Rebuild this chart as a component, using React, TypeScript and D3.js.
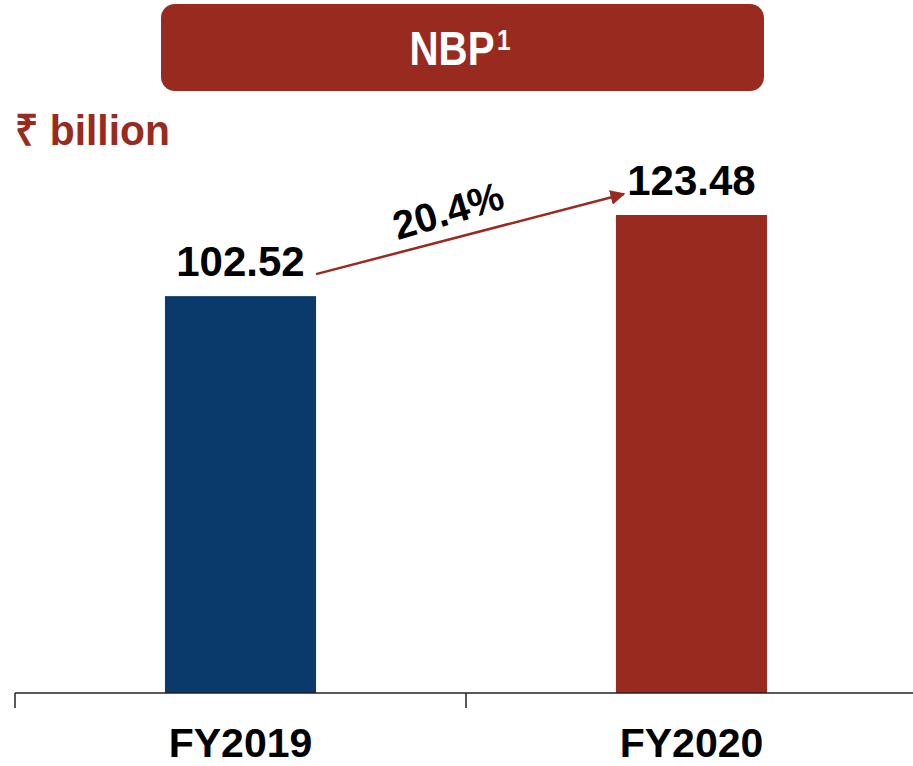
import React, { useEffect, useRef } from 'react';
import * as d3 from 'd3';

const categories = ['FY2019', 'FY2020'];
const values = [102.52, 123.48];
const valueLabels = ['102.52', '123.48'];
const barColors = ['#0a3a6b', '#982a20'];
const growthLabel = '20.4%';

const App = () => {
  const svgRef = useRef<SVGSVGElement | null>(null);

  useEffect(() => {
    const width = 913;
    const height = 766;
    const font = "'Liberation Sans', Arial, sans-serif";
    const red = '#982a20';

    const svg = d3.select(svgRef.current)
      .attr('width', width)
      .attr('height', height);
    svg.selectAll('*').remove();

    const baseY = 693;

    const x = d3.scaleBand()
      .domain(categories)
      .range([15, 917])
      .paddingInner(0.665)
      .paddingOuter(0.3325);

    const y = d3.scaleLinear()
      .domain([0, 123.48])
      .range([baseY, 215]);

    // title box
    svg.append('rect')
      .attr('x', 161)
      .attr('y', 4)
      .attr('width', 603)
      .attr('height', 87)
      .attr('rx', 14)
      .attr('fill', red);

    const title = svg.append('text')
      .attr('transform', 'translate(460,65) scale(0.84,1)')
      .attr('text-anchor', 'middle')
      .attr('fill', '#fff')
      .style('font-family', font)
      .style('font-weight', 'bold')
      .style('font-size', '48px');
    title.append('tspan').text('NBP');
    title.append('tspan')
      .attr('dx', 3)
      .attr('dy', -15)
      .style('font-size', '29px')
      .text('1');

    // unit label
    svg.append('text')
      .attr('transform', 'translate(15,145) scale(0.95,1)')
      .attr('fill', red)
      .style('font-family', font)
      .style('font-weight', 'bold')
      .style('font-size', '43px')
      .text('₹ billion');

    // bars
    svg.selectAll('.bar')
      .data(values)
      .enter().append('rect')
      .attr('class', 'bar')
      .attr('x', (d, i) => x(categories[i]))
      .attr('width', x.bandwidth())
      .attr('y', d => y(d))
      .attr('height', d => baseY - y(d))
      .attr('fill', (d, i) => barColors[i]);

    // value labels
    svg.selectAll('.val')
      .data(values)
      .enter().append('text')
      .attr('class', 'val')
      .attr('x', (d, i) => x(categories[i]) + x.bandwidth() / 2)
      .attr('y', d => y(d) - 20)
      .attr('text-anchor', 'middle')
      .attr('fill', '#000')
      .style('font-family', font)
      .style('font-weight', 'bold')
      .style('font-size', '42px')
      .text((d, i) => valueLabels[i]);

    // axis line + ticks at band boundaries
    const step = x.step();
    svg.append('line')
      .attr('x1', 15).attr('x2', width)
      .attr('y1', baseY).attr('y2', baseY)
      .attr('stroke', '#222')
      .attr('stroke-width', 1.5);
    categories.forEach(c => {
      const bx = x(c) - (step - x.bandwidth()) / 2;
      svg.append('line')
        .attr('x1', bx).attr('x2', bx)
        .attr('y1', baseY).attr('y2', 708)
        .attr('stroke', '#222')
        .attr('stroke-width', 1.5);
    });

    svg.selectAll('.cat')
      .data(categories)
      .enter().append('text')
      .attr('class', 'cat')
      .attr('x', d => x(d) + x.bandwidth() / 2)
      .attr('y', 757)
      .attr('text-anchor', 'middle')
      .attr('fill', '#000')
      .style('font-family', font)
      .style('font-weight', 'bold')
      .style('font-size', '41px')
      .text(d => d);

    // growth arrow
    svg.append('defs').append('marker')
      .attr('id', 'arrowHead')
      .attr('viewBox', '0 0 10 10')
      .attr('refX', 9)
      .attr('refY', 5)
      .attr('markerWidth', 6)
      .attr('markerHeight', 6)
      .attr('markerUnits', 'strokeWidth')
      .attr('orient', 'auto')
      .append('path')
      .attr('d', 'M0,0 L10,5 L0,10 Z')
      .attr('fill', red);

    const x0 = x(categories[0]) + x.bandwidth();
    const y0 = y(values[0]) - 22;
    const x1 = x(categories[1]) + 8;
    const y1 = y(values[1]) - 21;
    svg.append('line')
      .attr('x1', x0).attr('y1', y0)
      .attr('x2', x1).attr('y2', y1)
      .attr('stroke', red)
      .attr('stroke-width', 2.5)
      .attr('marker-end', 'url(#arrowHead)');

    const angle = Math.atan2(y1 - y0, x1 - x0) * 180 / Math.PI;
    svg.append('text')
      .attr('transform', `translate(${(x0 + x1) / 2 - 18},${(y0 + y1) / 2 - 10}) rotate(${angle - 2})`)
      .attr('text-anchor', 'middle')
      .attr('fill', '#000')
      .style('font-family', font)
      .style('font-weight', 'bold')
      .style('font-size', '40px')
      .text(growthLabel);
  }, []);

  return (
    <svg ref={svgRef} style={{ position: 'absolute', left: 0, top: 0, background: '#fff' }}></svg>
  );
};

export default App;
